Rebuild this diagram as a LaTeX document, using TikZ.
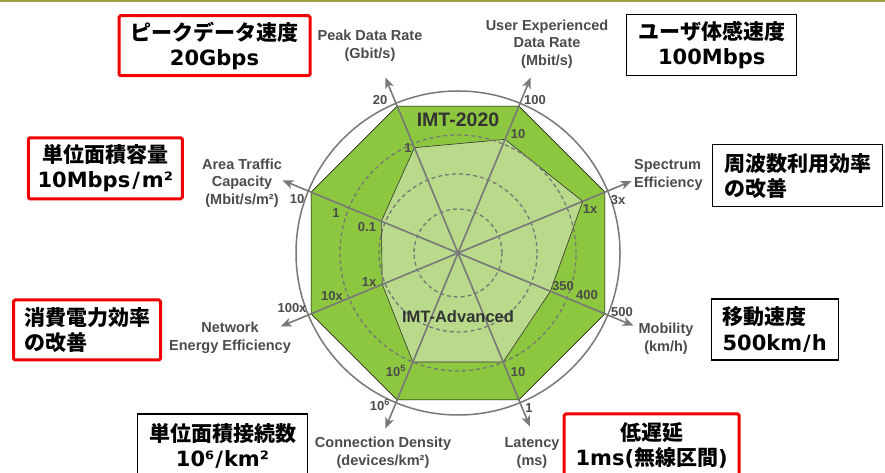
\documentclass[tikz,border=0pt]{standalone}
\usepackage{fontspec}
\setmainfont{Liberation Sans}
\newfontfamily\jp{Noto Sans CJK JP}
\newfontfamily\dv{DejaVu Sans}
\usetikzlibrary{arrows.meta, calc}

\definecolor{imtgreen}{RGB}{141,198,63}
\definecolor{advgreen}{RGB}{185,218,139}
\definecolor{axisgray}{RGB}{120,120,120}
\definecolor{labelgray}{RGB}{75,75,75}
\definecolor{topbar}{RGB}{160,160,60}
\definecolor{boxred}{RGB}{240,0,0}

\newcommand{\jatxt}[1]{{\jp\bfseries #1}}
\newcommand{\latxt}[1]{{\dv\bfseries #1}}

\begin{document}
\begin{tikzpicture}[
    x=1pt, y=1pt,
    axis/.style={-{Stealth[length=11pt, width=9pt, inset=3pt]}, axisgray, line width=1.6},
    ring/.style={dashed, dash pattern=on 4pt off 3pt, axisgray, line width=1.3},
    axlabel/.style={labelgray, font=\fontsize{14.5}{17.5}\selectfont\bfseries, align=center, inner sep=0},
    tick/.style={labelgray, font=\fontsize{13}{15}\selectfont\bfseries, inner sep=0},
    redbox/.style={draw=boxred, line width=3, rounded corners=1.5, font=\fontsize{21}{25}\selectfont, inner sep=0},
    blackbox/.style={draw=black, line width=1.2, font=\fontsize{21}{25}\selectfont, inner sep=0}
]
    \useasboundingbox (0,0) rectangle (885,473);

    % Top bar
    \fill[topbar] (0,471) rectangle (885,473);

    % Centre of the radar
    \coordinate (c) at (458,220);

    % Outer circle
    \draw[axisgray, line width=1.5] (c) circle (162);

    % IMT-2020 octagon
    \draw[fill=imtgreen, draw=black, line width=0.6]
        ($(c)+(112.5:159)$) -- ($(c)+(67.5:159)$) -- ($(c)+(22.5:159)$) -- ($(c)+(-22.5:159)$) --
        ($(c)+(-67.5:159)$) -- ($(c)+(-112.5:159)$) -- ($(c)+(-157.5:159)$) -- ($(c)+(157.5:159)$) -- cycle;

    % IMT-Advanced polygon
    \draw[fill=advgreen, draw=black!80, line width=0.6]
        ($(c)+(112.5:114)$) -- ($(c)+(67.5:123)$) -- ($(c)+(22.5:135)$) -- ($(c)+(-22.5:100)$) --
        ($(c)+(-67.5:118)$) -- ($(c)+(-112.5:118)$) -- ($(c)+(-157.5:82)$) -- ($(c)+(157.5:83)$) -- cycle;

    % Dashed rings
    \draw[ring] (c) circle (44);
    \draw[ring] (c) circle (79);
    \draw[ring] (c) circle (118);

    % Axes
    \coordinate (aPeak) at ($(c)+(112.5:190)$);
    \coordinate (aUser) at ($(c)+(67.5:190)$);
    \coordinate (aSpec) at ($(c)+(22.5:188)$);
    \coordinate (aMob) at ($(c)+(-22.5:190)$);
    \coordinate (aLat) at ($(c)+(-67.5:188)$);
    \coordinate (aConn) at ($(c)+(-112.5:190)$);
    \coordinate (aEner) at ($(c)+(-157.5:192)$);
    \coordinate (aArea) at ($(c)+(157.5:190)$);
    \draw[axis] (c) -- (aPeak);
    \draw[axis] (c) -- (aUser);
    \draw[axis] (c) -- (aSpec);
    \draw[axis] (c) -- (aMob);
    \draw[axis] (c) -- (aLat);
    \draw[axis] (c) -- (aConn);
    \draw[axis] (c) -- (aEner);
    \draw[axis] (c) -- (aArea);

    % Polygon titles
    \node[black!80, font=\fontsize{19.5}{21}\selectfont\bfseries] (imtnew) at (458,353) {IMT-2020};
    \node[black!80, font=\fontsize{16.5}{18}\selectfont\bfseries] (imtadv) at (458,156) {IMT-Advanced};

    % Axis titles
    \node[axlabel] (lPeak) at (370,427) {Peak Data Rate\\(Gbit/s)};
    \node[axlabel] (lUser) at (547,429) {User Experienced\\Data Rate\\(Mbit/s)};
    \node[axlabel, align=left, anchor=west] (lSpec) at (634,298) {Spectrum\\Efficiency};
    \node[axlabel] (lMob) at (666,134) {Mobility\\(km/h)};
    \node[axlabel] (lLat) at (532,20) {Latency\\(ms)};
    \node[axlabel] (lConn) at (383,20) {Connection Density\\(devices/km²)};
    \node[axlabel] (lEner) at (230,135) {Network\\Energy Efficiency};
    \node[axlabel] (lArea) at (242,290) {Area Traffic\\Capacity\\(Mbit/s/m²)};

    % Scale values
    \node[tick] (tPeakA) at (380,373) {20};
    \node[tick] (tPeakB) at (408,325) {1};
    \node[tick] (tUserA) at (535,373) {100};
    \node[tick] (tUserB) at (518,339) {10};
    \node[tick] (tSpecA) at (618,273) {3x};
    \node[tick] (tSpecB) at (590,264) {1x};
    \node[tick] (tMobA) at (622,161) {500};
    \node[tick] (tMobB) at (587,178) {400};
    \node[tick] (tMobC) at (563,187) {350};
    \node[tick] (tLatA) at (529,65) {1};
    \node[tick] (tLatB) at (518,101) {10};
    \node[tick] (tConnA) at (380,68) {10\textsuperscript{6}};
    \node[tick] (tConnB) at (396,102) {10\textsuperscript{5}};
    \node[tick] (tEnerA) at (292,165) {100x};
    \node[tick] (tEnerB) at (332,177) {10x};
    \node[tick] (tEnerC) at (369,191) {1x};
    \node[tick] (tAreaA) at (297,274) {10};
    \node[tick] (tAreaB) at (336,260) {1};
    \node[tick] (tAreaC) at (367,246) {0.1};

    % Target boxes
    \node[redbox, minimum width=191, minimum height=60, align=center] (bPeak) at (214.5,427.3)
        {\jatxt{ピークデータ速度}\\\latxt{20Gbps}};
    \node[redbox, minimum width=154, minimum height=61, align=center] (bArea) at (105.3,304.7)
        {\jatxt{単位面積容量}\\\latxt{10Mbps\kern2pt/\kern2pt m²}};
    \node[redbox, minimum width=147, minimum height=60, align=left] (bEner) at (87,143)
        {\jatxt{消費電力効率}\\\jatxt{の改善}};
    \node[blackbox, minimum width=170, minimum height=63, align=center] (bConn) at (222.5,27.5)
        {\jatxt{単位面積接続数}\\\latxt{10⁶\kern1pt/\kern1pt km²}};
    \node[blackbox, minimum width=170, minimum height=61, align=center] (bUser) at (711.7,427.7)
        {\jatxt{ユーザ体感速度}\\\latxt{100Mbps}};
    \node[blackbox, minimum width=170, minimum height=62, align=left] (bSpec) at (797.7,297.2)
        {\jatxt{周波数利用効率}\\\jatxt{の改善}};
    \node[blackbox, minimum width=127, minimum height=61, align=left] (bMob) at (774.7,143.5)
        {\jatxt{移動速度}\\\latxt{500km\kern1pt/\kern1pt h}};
    \node[redbox, minimum width=175, minimum height=63, align=center] (bLat) at (651.7,27.5)
        {\jatxt{低遅延}\\\latxt{1ms(}\jatxt{無線区間}\latxt{)}};

\end{tikzpicture}
\end{document}
